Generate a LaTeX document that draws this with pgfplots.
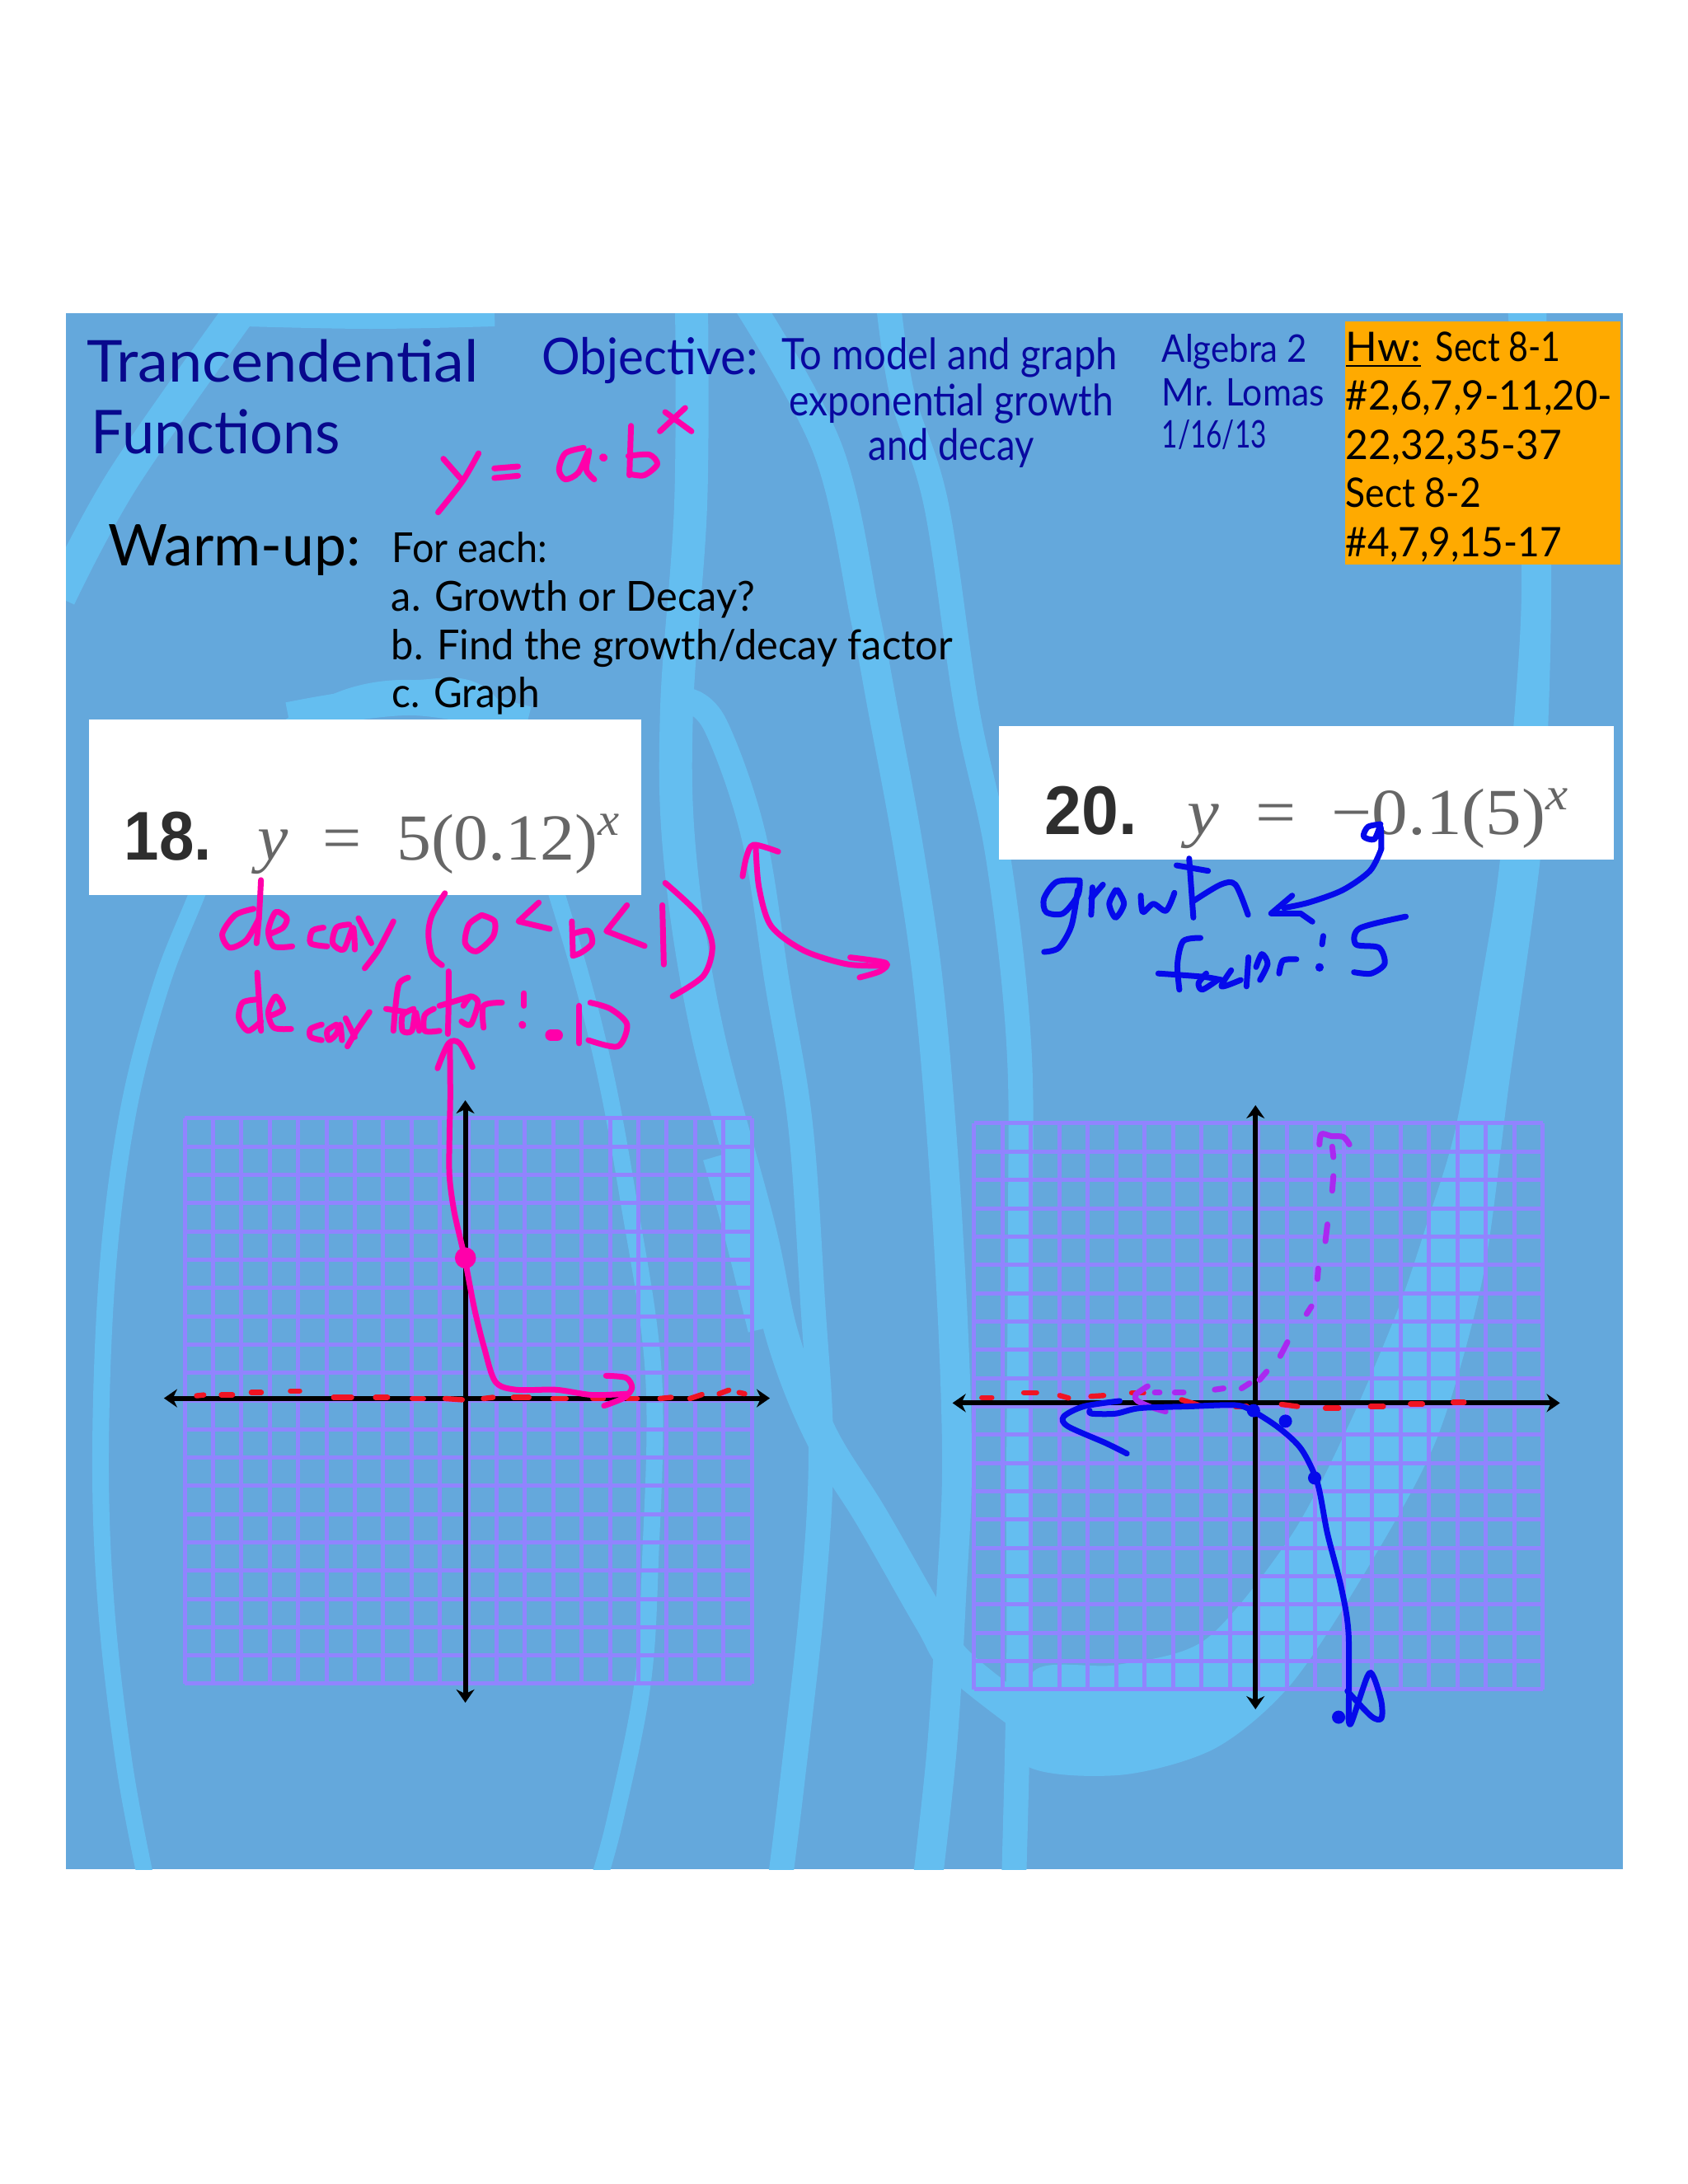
\documentclass[border=0pt]{standalone}
\usepackage{graphicx}
\usepackage{fontspec}
\usepackage{pgfplots}
\pgfplotsset{compat=1.18}
\usetikzlibrary{arrows.meta}
\setmainfont{Lato}
\newfontfamily\ser{Liberation Serif}
\newfontfamily\sanf{Liberation Sans}
\definecolor{slidebg}{RGB}{100,168,220}
\definecolor{swoosh}{RGB}{100,190,240}
\definecolor{gridc}{RGB}{145,132,255}
\definecolor{titlec}{RGB}{8,8,140}
\definecolor{objc}{RGB}{8,8,160}
\definecolor{orangec}{RGB}{255,170,0}
\definecolor{pinkc}{RGB}{255,0,170}
\definecolor{bluec}{RGB}{5,10,235}
\definecolor{purpc}{RGB}{170,40,240}
\definecolor{redc}{RGB}{240,20,35}
\newdimen\pxu \pxu=0.25bp
\newcommand\St[2]{\addplot[#1] coordinates {#2};}
\newcommand\T[6]{\node[anchor=base west,inner sep=0pt,text=#6] at (axis cs:#1,#2) {\resizebox{#3\pxu}{\height}{\fontsize{#4}{#4}\selectfont #5}};}
\pgfplotsset{
 z1/.style={x filter/.expression={x/1.568+80},y filter/.expression={y/3+380}},
 z3/.style={x filter/.expression={x/1.508+80},y filter/.expression={y/3+860}},
 z4/.style={x filter/.expression={x/1.96+1180},y filter/.expression={y/3+860}},
 z5/.style={x filter/.expression={x/2.063+190},y filter/.expression={y/2.063+1330}},
 z6/.style={x filter/.expression={x/2.063+1150},y filter/.expression={y/1.96+1330}},
 zA/.style={x filter/.expression={x/2.8+700},y filter/.expression={y/1.112+860}},
 zB/.style={x filter/.expression={x/2.24+80},y filter/.expression={y/1.318+1080}},
 zC/.style={x filter/.expression={x/2.148+1240},y filter/.expression={y/1.275+1040}},
 ink/.style={line cap=round,line join=round,smooth,tension=0.5,no markers,line width=1.75bp},
 pk1/.style={ink,pinkc,z1}, pk3/.style={ink,pinkc,z3}, pk5/.style={ink,pinkc,z5},
 pkA/.style={ink,pinkc,zA}, pkB/.style={ink,pinkc,zB},
 bl4/.style={ink,bluec,z4}, bl6/.style={ink,bluec,z6}, blC/.style={ink,bluec,zC},
 pu6/.style={ink,purpc,z6},
 rd5/.style={ink,redc,z5,line width=1.6bp}, rd6/.style={ink,redc,z6,line width=1.6bp},
 bandp/.style={swoosh,no markers,smooth,tension=0.6,line width=#1,line join=round},
 gridaxis/.style={anchor=south west,scale only axis,xmin=-10,xmax=10,ymin=-10,ymax=10,clip=false,
   xtick={-10,...,10},ytick={-10,...,10},xticklabels={},yticklabels={},major tick length=0pt,
   axis line style={draw=none},tick style={draw=none},grid=major,
   grid style={gridc,line width=1.25bp}},
 axarrow/.style={black,no markers,line width=1.5bp,{Stealth[length=4bp,width=5.5bp]}-{Stealth[length=4bp,width=5.5bp]}},
}
\begin{document}
\begin{tikzpicture}
% page
\begin{axis}[at={(0bp,0bp)},anchor=south west,scale only axis,width=512bp,height=662.5bp,hide axis,
  xmin=0,xmax=2048,ymin=0,ymax=2650]
\addplot[fill=white,draw=none] coordinates {(0,0)(2048,0)(2048,2650)(0,2650)} --cycle;
\end{axis}
% slide background
\begin{axis}[at={(20bp,95.5bp)},anchor=south west,scale only axis,width=472.25bp,height=472bp,hide axis,
  xmin=80,xmax=1969,ymin=380,ymax=2268,y dir=reverse]
\addplot[fill=slidebg,draw=none] coordinates {(80,380)(1969,380)(1969,2268)(80,2268)} --cycle;
\St{bandp=10bp}{(297,370)(150,580)(72,725)}
\St{bandp=8bp}{(297,380)(450,383)(600,380)}
\St{bandp=5bp}{(178,2285)(151,2142)(129,1952)(122,1763)(131,1535)(156,1346)(196,1194)(241,1080)(300,930)(400,855)(500,835)(600,860)(674,1080)(727,1270)(763,1459)(793,1669)(789,1894)(779,2047)(746,2209)(725,2285)}
\St{bandp=9bp}{(350,870)(500,850)(640,875)}
\St{bandp=10bp}{(839,370)(838,613)(821,860)(825,1040)(857,1247)(921,1490)(950,1624)(996,1741)(1057,1840)(1129,1966)(1164,2020)(1260,2095)}
\St{bandp=14bp}{(880,1400)(905,1489)(935,1610)}
\St{bandp=7.5bp}{(835,850)(868,880)(914,1013)(943,1193)(971,1364)(986,1579)(996,1759)(986,1939)(961,2164)(946,2285)}
\St{bandp=9bp}{(909,370)(1005,547)(1050,750)(1071,860)(1104,1040)(1129,1220)(1150,1490)(1161,1759)(1154,1939)(1143,2119)(1125,2285)}
\St{bandp=7.5bp}{(1078,370)(1095,480)(1136,613)(1173,860)(1211,1040)(1236,1265)(1238,1490)(1236,1800)(1236,2030)(1230,2285)}
\addplot[fill=swoosh,draw=none,smooth,tension=0.5,no markers] coordinates {(1876,370)(1882,680)(1879,860)(1869,1040)(1831,1314)(1799,1550)(1743,1746)(1659,1903)(1566,2044)(1473,2122)(1356,2154)(1240,2138)(1254,2028)(1356,2020)(1463,1989)(1566,1864)(1636,1730)(1696,1589)(1733,1479)(1766,1369)(1799,1181)(1818,1060)(1838,860)(1846,680)(1829,370)} --cycle;
\end{axis}
% left graph
\begin{axis}[gridaxis,at={(56bp,151.75bp)},width=172bp,height=171.5bp]
\addplot[axarrow] coordinates {(-10.73,0.1)(10.64,0.1)};
\addplot[axarrow] coordinates {(-0.1,10.64)(-0.1,-10.67)};
\end{axis}
% right graph
\begin{axis}[gridaxis,at={(295.375bp,150bp)},width=172.6bp,height=171.75bp]
\addplot[axarrow] coordinates {(-10.75,0.12)(10.6,0.12)};
\addplot[axarrow] coordinates {(-0.1,10.64)(-0.1,-10.7)};
\end{axis}
% text and ink
\begin{axis}[at={(0bp,0bp)},anchor=south west,scale only axis,width=512bp,height=662.5bp,hide axis,
  xmin=0,xmax=2048,ymin=0,ymax=2650,y dir=reverse]
% boxes
\addplot[fill=orangec,draw=none] coordinates {(1632,390)(1965.5,390)(1965.5,685)(1632,685)} --cycle;
\addplot[fill=white,draw=none] coordinates {(108,873)(778,873)(778,1086)(108,1086)} --cycle;
\addplot[fill=white,draw=none] coordinates {(1212,881)(1958,881)(1958,1043)(1212,1043)} --cycle;
% text
\T{105}{463}{475}{17.6}{Trancendential}{titlec}
\T{110}{550}{302}{18.4}{Functions}{titlec}
\T{657}{454}{262}{15.4}{Objective:}{objc}
\T{948}{448}{407}{13.2}{To model and graph}{objc}
\T{957}{504}{393}{13.2}{exponential growth}{objc}
\T{1053}{558}{201}{13.2}{and decay}{objc}
\T{1409}{439}{176}{11.6}{Algebra 2}{objc}
\T{1409}{492}{197}{11.6}{Mr. Lomas}{objc}
\T{1409}{543}{127}{11.6}{1/16/13}{objc}
\T{1632}{438}{91}{12.4}{\underline{Hw:}}{black}
\T{1741}{438}{152}{12.4}{Sect 8-1}{black}
\T{1632}{497}{323}{12.4}{\#2,6,7,9-11,20-}{black}
\T{1632}{557}{262}{12.4}{22,32,35-37}{black}
\T{1632}{615}{164}{12.4}{Sect 8-2}{black}
\T{1632}{675}{262}{12.4}{\#4,7,9,15-17}{black}
\T{131}{686}{306}{17.5}{Warm-up:}{black}
\T{475}{682}{188}{12.6}{For each:}{black}
\T{474}{741}{441}{12.6}{a. Growth or Decay?}{black}
\T{474}{800}{681}{12.6}{b. Find the growth/decay factor}{black}
\T{475}{858}{179}{12.6}{c. Graph}{black}
\T{150}{1043}{106}{21}{\sanf\bfseries 18.}{black!82}
\T{312}{1043}{441}{20}{\ser\itshape y\upshape\ \ =\ \ 5(0.12)\textsuperscript{\itshape x}}{black!60}
\T{1267}{1012}{112}{21}{\sanf\bfseries 20.}{black!82}
\T{1440}{1012}{464}{20}{\ser\itshape y\upshape\ \ =\ \ \char"2212 0.1(5)\textsuperscript{\itshape x}}{black!60}
% y = a.b^x
\St{pk1}{(718,530)(750,600)}
\St{pk1}{(785,510)(755,610)(708,725)}
\St{pk1}{(815,565)(860,558)}
\St{pk1}{(815,600)(860,592)}
\St{pk1}{(985,490)(950,510)(938,570)(950,605)(975,580)(995,500)(990,570)(1005,605)}
\St{pk1,line width=2.4bp}{(1022,525)(1023,526)}
\St{pk1}{(1075,410)(1072,590)}
\St{pk1}{(1070,520)(1110,515)(1125,550)(1100,590)(1072,585)}
\St{pk1}{(1140,360)(1190,430)}
\St{pk1}{(1178,345)(1130,430)}
% decay (0<b<1)
\St{pkB}{(530,-16)(525,40)(518,85)}
\St{pkB}{(510,30)(460,40)(425,70)(445,92)(490,80)(525,45)}
\St{pkB}{(555,70)(590,60)(600,45)(570,35)(550,65)(565,90)(615,90)}
\St{pkB}{(700,60)(670,65)(665,85)(710,90)}
\St{pkB}{(770,55)(735,60)(725,85)(755,95)(780,60)(785,95)}
\St{pkB}{(795,45)(830,85)}
\St{pkB}{(890,50)(850,95)(812,125)}
\St{pkB}{(1030,5)(995,40)(985,70)(995,105)(1022,120)}
\St{pkB}{(1130,40)(1095,55)(1085,85)(1115,98)(1160,75)(1165,50)(1130,40)}
\St{pkB,sharp plot}{(1285,20)(1230,50)(1315,62)}
\St{pkB}{(1375,50)(1378,105)}
\St{pkB}{(1378,70)(1420,65)(1430,85)(1400,100)(1378,105)}
\St{pkA,sharp plot}{(170,265)(100,300)(230,320)}
\St{pkA}{(290,265)(295,345)}
\St{pkA}{(300,235)(420,280)(460,320)(430,360)(325,388)}
\St{pk3}{(1262,500)(1268,650)(1290,790)(1350,880)(1430,930)(1500,935)}
\St{pk3}{(1238,610)(1245,540)(1258,495)(1303,520)}
\St{pk3}{(1435,905)(1500,925)(1490,955)(1452,978)}
% decay factor: .12
\St{pkB}{(520,132)(525,180)(530,225)}
\St{pkB}{(520,175)(480,180)(470,205)(495,225)(530,210)}
\St{pkB}{(560,200)(590,190)(570,170)(550,195)(565,220)(612,222)}
\St{pkB}{(695,215)(665,222)(665,235)(695,240)}
\St{pkB}{(735,215)(710,225)(715,240)(735,230)(745,215)(750,240)}
\St{pkB}{(760,205)(785,235)}
\St{pkB}{(825,195)(790,225)(765,250)}
\St{pkB}{(930,140)(905,150)(895,190)(890,225)}
\St{pkB}{(870,190)(925,195)}
\St{pkB}{(945,190)(915,200)(915,225)(940,225)(950,195)(960,225)}
\St{pkB}{(1000,190)(975,200)(975,225)(1015,225)}
\St{pkB}{(1040,130)(1040,180)(1038,230)}
\St{pkB}{(1015,185)(1100,170)}
\St{pkB}{(1080,185)(1100,170)(1120,180)(1100,215)(1075,210)}
\St{pkB}{(1135,220)(1135,185)(1185,180)}
\St{pkB}{(1245,165)(1245,185)}
\St{pkB,line width=2.2bp}{(1240,215)(1241,216)}
\St{pkB,line width=3.5bp}{(1318,232)(1335,232)}
\St{pkB}{(1395,185)(1395,245)}
\St{pkB}{(1425,180)(1480,190)(1525,215)(1500,250)(1420,240)}
\St{pkB}{(1010,285)(1040,245)(1070,245)(1105,283)}
% left graph ink
\St{rd5}{(100,750)(118,748)}
\St{rd5}{(162,748)(190,748)}
\St{rd5}{(237,742)(262,742)}
\St{rd5}{(335,738)(358,738)}
\St{rd5}{(443,754)(488,754)}
\St{rd5}{(548,754)(578,754)}
\St{rd5}{(640,757)(668,757)}
\St{rd5}{(722,757)(765,760)}
\St{rd5}{(818,757)(842,754)}
\St{rd5}{(893,754)(932,754)}
\St{rd5}{(992,757)(1025,757)}
\St{rd5}{(1092,757)(1118,757)}
\St{rd5}{(1178,757)(1203,757)}
\St{rd5}{(1260,757)(1288,754)}
\St{rd5}{(1335,757)(1365,747)}
\St{rd5}{(1408,745)(1432,736)}
\St{rd5}{(1458,742)(1472,745)}
\St{pk5}{(734,-130)(735,0)(733,100)(733,200)(745,290)(770,400)(795,530)(820,630)(848,715)(900,735)(1000,735)(1090,748)(1180,745)}
\St{pk5}{(1125,700)(1175,705)(1190,730)(1170,755)(1120,775)}
\addplot[only marks,mark=*,mark size=3bp,pinkc,z5] coordinates {(773,405)};
% right graph ink
\St{rd6}{(85,717)(110,717)}
\St{rd6}{(190,705)(222,705)}
\St{rd6}{(280,712)(302,718)}
\St{rd6}{(358,714)(390,712)}
\St{rd6}{(460,706)(490,706)}
\St{rd6}{(585,722)(628,735)}
\St{rd6}{(720,738)(748,738)}
\St{rd6}{(835,733)(875,738)}
\St{rd6}{(945,742)(978,742)}
\St{rd6}{(1058,738)(1090,738)}
\St{rd6}{(1158,732)(1188,732)}
\St{rd6}{(1265,728)(1292,728)}
\St{pu6}{(930,115)(935,90)(960,95)(990,97)(1005,115)}
\St{pu6}{(962,120)(965,145)}
\St{pu6}{(965,190)(962,225)}
\St{pu6}{(950,305)(945,345)}
\St{pu6}{(927,410)(925,435)}
\St{pu6}{(910,500)(898,518)}
\St{pu6}{(850,585)(832,618)}
\St{pu6}{(798,655)(780,675)}
\St{pu6}{(755,683)(735,695)}
\St{pu6}{(690,695)(668,698)}
\St{pu6}{(590,705)(568,705)}
\St{pu6}{(530,705)(518,705)}
\St{pu6}{(500,690)(470,710)(475,725)(510,740)(545,750)}
\St{bl6}{(1003,1480)(1003,1280)(985,1170)(950,1040)(925,920)(885,840)(830,790)(765,750)(720,735)(600,738)(480,742)(420,755)(360,755)(355,748)}
\St{bl6}{(430,725)(340,738)(290,762)(300,785)(395,825)(448,850)}
\St{bl6}{(1003,1480)(1010,1490)(1050,1380)(1065,1380)(1085,1440)(1085,1480)(1060,1475)(1000,1415)}
\addplot[only marks,mark=*,mark size=1.8bp,bluec,z6] coordinates {(765,748)(845,773)(918,908)(978,1477)};
% growth factor: 5
\St{bl4}{(255,625)(200,630)(170,690)(175,740)(215,745)(250,680)(255,630)}
\St{bl4}{(250,660)(235,790)(205,870)(170,885)}
\St{bl4}{(285,650)(282,750)}
\St{bl4}{(282,690)(310,640)}
\St{bl4}{(340,660)(325,710)(340,760)(360,710)(345,660)}
\St{bl4}{(400,680)(405,740)(430,710)(460,735)(480,670)}
\St{bl4}{(515,545)(525,760)}
\St{bl4}{(485,570)(560,590)}
\St{bl4}{(525,700)(590,640)(625,640)(655,750)}
\St{bl4}{(970,420)(940,430)(930,465)(955,475)(970,430)(972,510)}
\St{bl4}{(972,510)(945,590)(880,660)(800,705)(740,725)}
\St{bl4,sharp plot}{(760,680)(710,745)(780,745)(808,775)}
\St{blC}{(465,125)(420,130)(405,165)(410,205)}
\St{blC}{(355,180)(470,185)(520,190)}
\St{blC}{(480,180)(460,195)(470,205)(510,190)}
\St{blC}{(545,175)(520,200)(570,190)}
\St{blC}{(590,155)(585,200)}
\St{blC}{(610,170)(625,150)(640,165)(620,190)}
\St{blC}{(670,180)(680,160)(715,158)}
\St{blC}{(785,122)(782,135)}
\St{blC,line width=2.4bp}{(775,170)(775,171)}
\St{blC}{(1000,92)(880,110)(870,135)(930,140)(945,165)(910,180)(865,178)}
\end{axis}
\end{tikzpicture}
\end{document}
